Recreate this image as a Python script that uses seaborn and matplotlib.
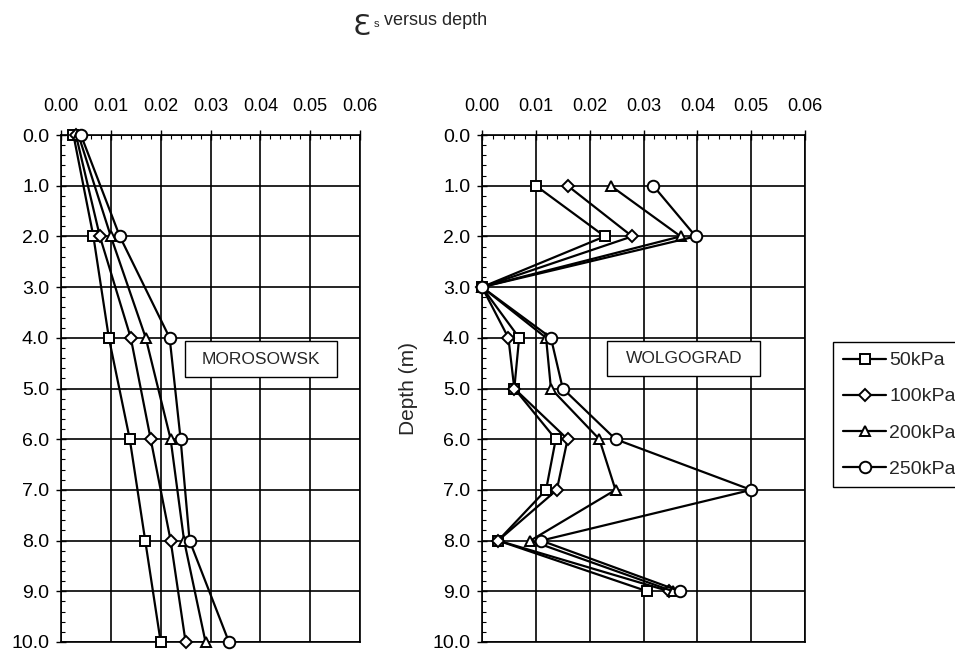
import numpy as np
import pandas as pd
import matplotlib
matplotlib.use("Agg")
import matplotlib.pyplot as plt
import seaborn as sns
from matplotlib.patches import Rectangle
from matplotlib.ticker import MultipleLocator, FormatStrFormatter

# ---------------- data ----------------
series = ["50kPa", "100kPa", "200kPa", "250kPa"]
markers = ["s", "D", "^", "o"]

depth_mor = [0, 2, 4, 6, 8, 10]
mor_50 = [0.0025, 0.0065, 0.0096, 0.0138, 0.0169, 0.0200]
mor_100 = [0.0030, 0.0078, 0.0140, 0.0180, 0.0220, 0.0250]
mor_200 = [0.0035, 0.0100, 0.0170, 0.0220, 0.0247, 0.0290]
mor_250 = [0.0040, 0.0118, 0.0218, 0.0240, 0.0258, 0.0337]

depth_wol = [1, 2, 3, 4, 5, 6, 7, 8, 9]
wol_50 = [0.0100, 0.0228, 0.0000, 0.0069, 0.0060, 0.0137, 0.0119, 0.0030, 0.0307]
wol_100 = [0.0159, 0.0279, 0.0000, 0.0049, 0.0060, 0.0159, 0.0139, 0.0030, 0.0348]
wol_200 = [0.0239, 0.0369, 0.0000, 0.0119, 0.0128, 0.0218, 0.0248, 0.0090, 0.0355]
wol_250 = [0.0318, 0.0397, 0.0000, 0.0128, 0.0150, 0.0248, 0.0500, 0.0110, 0.0368]

x_ticks = [0.00, 0.01, 0.02, 0.03, 0.04, 0.05, 0.06]
y_ticks = [0, 1, 2, 3, 4, 5, 6, 7, 8, 9, 10]

mor_vals = [mor_50, mor_100, mor_200, mor_250]
wol_vals = [wol_50, wol_100, wol_200, wol_250]

# ---------------- style ----------------
sns.set_style("white")
plt.rcParams["font.family"] = ["Liberation Sans", "DejaVu Sans"]

W, H = 955, 652
fig = plt.figure(figsize=(W / 100, H / 100), dpi=100)

def px_axes(x0, x1, y0, y1):
    return fig.add_axes([x0 / W, 1 - y1 / H, (x1 - x0) / W, (y1 - y0) / H])

ax1 = px_axes(61, 360, 135, 642)
ax2 = px_axes(482, 805, 135, 642)

msz = {"s": 7.8, "D": 6.3, "^": 7.8, "o": 8.3}

def draw(ax, depth, vals):
    for name, mk, v in zip(series, markers, vals):
        df = pd.DataFrame({"strain": v, "depth": depth})
        sns.lineplot(data=df, x="strain", y="depth", sort=False, estimator=None,
                     color="black", linewidth=1.6, marker=mk, markersize=msz[mk],
                     markerfacecolor="white", markeredgecolor="black",
                     markeredgewidth=1.4, ax=ax, label=name, zorder=5,
                     clip_on=False)

draw(ax1, depth_mor, mor_vals)
draw(ax2, depth_wol, wol_vals)

for ax in (ax1, ax2):
    ax.set_xlim(0, 0.06)
    ax.set_ylim(10, 0)
    ax.xaxis.tick_top()
    ax.set_xticks(x_ticks)
    ax.set_yticks(y_ticks)
    ax.xaxis.set_major_formatter(FormatStrFormatter("%.2f"))
    ax.yaxis.set_major_formatter(FormatStrFormatter("%.1f"))
    ax.xaxis.set_minor_locator(MultipleLocator(0.002))
    ax.yaxis.set_minor_locator(MultipleLocator(0.2))
    ax.tick_params(axis="both", which="major", direction="inout", length=7,
                   width=1.0, color="black", labelcolor="black")
    ax.tick_params(axis="x", which="major", pad=11, labelsize=13)
    ax.tick_params(axis="y", which="major", pad=5, labelsize=14)
    ax.tick_params(axis="both", which="minor", direction="in", length=3,
                   width=0.8, color="black")
    ax.tick_params(axis="x", which="both", top=True, bottom=False)
    ax.tick_params(axis="y", which="both", left=True, right=False)
    ax.grid(True, which="major", color="black", linewidth=1.2)
    ax.set_axisbelow(True)
    for s in ax.spines.values():
        s.set_visible(True)
        s.set_color("black")
        s.set_linewidth(1.2)
    ax.set_xlabel("")
    ax.set_ylabel("")
    if ax.get_legend() is not None:
        ax.get_legend().remove()

# site label boxes
def site_box(ax, x0, x1, y0, y1, text):
    ax.add_patch(Rectangle((x0, y0), x1 - x0, y1 - y0, facecolor="white",
                           edgecolor="black", linewidth=1.0, zorder=4))
    ax.text((x0 + x1) / 2, (y0 + y1) / 2, text, ha="center", va="center",
            fontsize=12.5, zorder=6)

site_box(ax1, 0.0249, 0.0553, 4.07, 4.78, "MOROSOWSK")
site_box(ax2, 0.0233, 0.0517, 4.07, 4.76, "WOLGOGRAD")

ax2.set_ylabel("Depth (m)", fontsize=15, labelpad=10)

# legend
handles, labels = ax1.get_legend_handles_labels()
leg = fig.legend(handles, labels, loc="upper left",
                 bbox_to_anchor=(833 / W, 1 - 342 / H), borderaxespad=0,
                 fontsize=14, frameon=True, fancybox=False, framealpha=1,
                 edgecolor="black", handlelength=2.25, handletextpad=0.15,
                 labelspacing=0.95, borderpad=0.5)
leg.get_frame().set_linewidth(1.0)

# title
fig.text(353 / W, 1 - 35 / H, "Ɛ", fontsize=21, ha="left", va="baseline",
         family=["DejaVu Sans"])
fig.text(374 / W, 1 - 27 / H, "s", fontsize=8, ha="left", va="baseline")
fig.text(384 / W, 1 - 25 / H, "versus depth", fontsize=13, ha="left",
         va="baseline")

fig.savefig("out.png", dpi=100)
